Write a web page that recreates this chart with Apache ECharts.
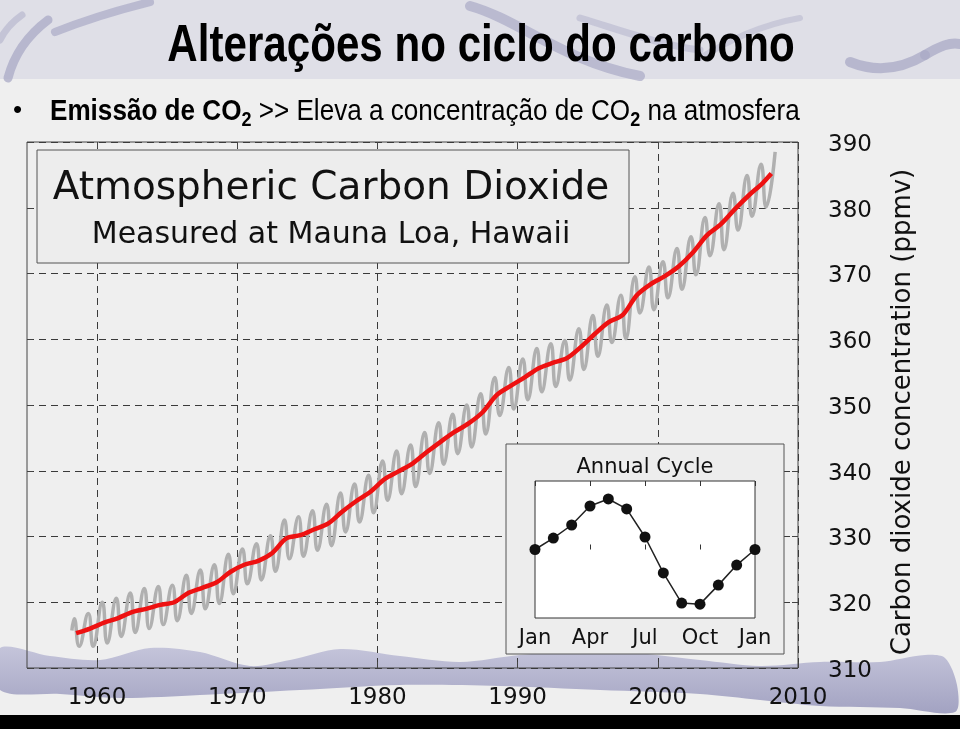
<!DOCTYPE html>
<html><head><meta charset="utf-8">
<script src="https://cdn.jsdelivr.net/npm/echarts@6/dist/echarts.min.js"></script>
<style>html,body{margin:0;padding:0;background:#efefef}#c{width:960px;height:729px}</style>
</head><body><div id="c"></div><script>
// ---- texts ----
const slideTitle = 'Alterações no ciclo do carbono';
const chartTitle = 'Atmospheric Carbon Dioxide';
const chartSubtitle = 'Measured at Mauna Loa, Hawaii';
const yAxisName = 'Carbon dioxide concentration (ppmv)';
const insetTitle = 'Annual Cycle';
// ---- main axes ----
const xTickYears = [1960, 1970, 1980, 1990, 2000, 2010];
const xRange = [1955, 2010];
const yRange = [310, 390];
const yStep = 10;
// ---- monthly record, summarised by seasonal extremes ----
const grayFirstMonth = 1958.2;
const grayFirstValue = 315.7;
const peakYears = [1958,1959,1960,1961,1962,1963,1964,1965,1966,1967,1968,1969,1970,1971,1972,1973,1974,1975,1976,1977,1978,1979,1980,1981,1982,1983,1984,1985,1986,1987,1988,1989,1990,1991,1992,1993,1994,1995,1996,1997,1998,1999,2000,2001,2002,2003,2004,2005,2006,2007,2008];
const mayPeaks = [317.5,318.3,320.0,320.6,321.4,322.1,322.4,322.6,324.1,324.9,325.7,327.3,328.1,328.9,330.1,332.5,333.0,333.9,334.9,336.6,338.0,339.3,341.5,343.0,343.9,345.8,347.3,348.6,350.0,351.7,354.2,355.7,357.0,358.6,359.3,359.8,361.6,363.6,365.2,366.7,369.5,371.0,371.8,373.8,375.6,378.5,380.6,382.2,384.9,386.6,388.5];
const autumnTroughs = [313.3,313.3,313.8,314.8,315.4,316.0,316.6,317.2,318.3,319.0,319.8,321.3,322.8,323.4,324.7,326.6,327.0,327.9,328.6,330.7,332.2,333.6,335.5,336.5,337.6,339.6,341.0,342.6,343.6,345.6,348.4,349.4,350.8,352.0,352.8,353.8,355.4,357.4,359.5,360.1,364.0,364.5,366.3,367.6,369.8,372.7,373.6,376.6,378.7,380.1];
const peakMonthFrac = 0.37;
const troughMonthFrac = 0.72;
// ---- smoothed trend (annual) ----
const trendYears = [1958,1959,1960,1961,1962,1963,1964,1965,1966,1967,1968,1969,1970,1971,1972,1973,1974,1975,1976,1977,1978,1979,1980,1981,1982,1983,1984,1985,1986,1987,1988,1989,1990,1991,1992,1993,1994,1995,1996,1997,1998,1999,2000,2001,2002,2003,2004,2005,2006,2007,2008];
const trendValues = [315.3,316.0,316.9,317.6,318.5,319.0,319.6,320.0,321.4,322.2,323.0,324.6,325.7,326.3,327.5,329.7,330.2,331.1,332.0,333.8,335.4,336.8,338.7,339.9,341.1,342.8,344.4,345.9,347.2,348.9,351.5,352.9,354.2,355.6,356.4,357.1,358.8,360.8,362.6,363.7,366.7,368.4,369.6,371.1,373.2,375.8,377.5,379.8,381.9,383.8,385.2];
const trendLastFrac = 0.1;
// ---- annual cycle inset ----
const cycleMonthIndex = [0,1,2,3,4,5,6,7,8,9,10,11,12];
const cycleValues = [0.0,0.67,1.43,2.54,2.95,2.37,0.73,-1.37,-3.13,-3.19,-2.08,-0.91,0.0];
const cycleTickValues = [0,3,6,9,12];
const cycleTickLabels = ['Jan','Apr','Jul','Oct','Jan'];

// ---- build series data ----
const grayData = [[grayFirstMonth, grayFirstValue]];
peakYears.forEach((y, i) => {
  grayData.push([y + peakMonthFrac, mayPeaks[i]]);
  if (i < autumnTroughs.length) grayData.push([y + troughMonthFrac, autumnTroughs[i]]);
});
const trendData = trendYears.map((y, i) => [y + (i === trendYears.length - 1 ? trendLastFrac : 0.5), trendValues[i]]);
const cycleData = cycleMonthIndex.map((m, i) => [m, cycleValues[i]]);

// ---- layout ----
const P = {left: 27, top: 142, right: 798, bottom: 668};
const I = {left: 535, top: 481, right: 755, bottom: 618};
const dj = 'DejaVu Sans';
const dash = {color: '#3a3a3a', width: 1, type: [7, 5]};

function swoosh(x1, y1, c1x, c1y, c2x, c2y, x2, y2, w, col, op) {
  return {type: 'bezierCurve', z: -9, silent: true,
    shape: {x1: x1, y1: y1, cpx1: c1x, cpy1: c1y, cpx2: c2x, cpy2: c2y, x2: x2, y2: y2},
    style: {fill: null, stroke: col, lineWidth: w, lineCap: 'round', opacity: op}};
}

const chart = echarts.init(document.getElementById('c'), null, {renderer: 'canvas'});
chart.setOption({
  animation: false,
  backgroundColor: '#efefef',
  grid: [
    {left: P.left, top: P.top, width: P.right - P.left, height: P.bottom - P.top, show: true, borderColor: '#444', borderWidth: 1, backgroundColor: 'transparent', containLabel: false},
    {left: I.left, top: I.top, width: I.right - I.left, height: I.bottom - I.top, show: false, containLabel: false}
  ],
  xAxis: [
    {gridIndex: 0, type: 'value', min: xRange[0], max: xRange[1], position: 'bottom',
     axisLine: {show: false},
     axisTick: {show: true, inside: true, length: 6, customValues: xTickYears, lineStyle: {color: '#444'}},
     axisLabel: {customValues: xTickYears, fontFamily: dj, fontSize: 23, color: '#111', margin: 19, formatter: v => String(v)},
     splitLine: {show: true, lineStyle: dash}},
    {gridIndex: 0, type: 'value', min: xRange[0], max: xRange[1], position: 'top',
     axisLine: {show: false},
     axisTick: {show: true, inside: true, length: 6, customValues: xTickYears, lineStyle: {color: '#444'}},
     axisLabel: {show: false}, splitLine: {show: false}},
    {gridIndex: 1, type: 'value', min: 0, max: 12, interval: 3, position: 'bottom', z: 7,
     axisLine: {show: false},
     axisTick: {show: true, inside: true, length: 5, lineStyle: {color: '#333'}},
     axisLabel: {fontFamily: dj, fontSize: 21, color: '#111', margin: 10,
       formatter: v => cycleTickLabels[cycleTickValues.indexOf(v)] || ''},
     splitLine: {show: false}},
    {gridIndex: 1, type: 'value', min: 0, max: 12, interval: 3, position: 'top', z: 7,
     axisLine: {show: false},
     axisTick: {show: true, inside: true, length: 5, lineStyle: {color: '#333'}},
     axisLabel: {show: false}, splitLine: {show: false}}
  ],
  yAxis: [
    {gridIndex: 0, type: 'value', min: yRange[0], max: yRange[1], interval: yStep, position: 'right',
     axisLine: {show: false},
     axisTick: {show: true, inside: true, length: 6, lineStyle: {color: '#444'}},
     axisLabel: {margin: 30, formatter: v => '{a|' + v + '}',
       rich: {a: {fontFamily: dj, fontSize: 23, color: '#111', padding: [6, 0, 0, 0]}}},
     splitLine: {show: true, lineStyle: dash}},
    {gridIndex: 0, type: 'value', min: yRange[0], max: yRange[1], interval: yStep, position: 'left',
     axisLine: {show: false},
     axisTick: {show: true, inside: true, length: 6, lineStyle: {color: '#444'}},
     axisLabel: {show: false}, splitLine: {show: false}},
    {gridIndex: 1, type: 'value', min: -4, max: 4, show: false}
  ],
  series: [
    {type: 'line', xAxisIndex: 0, yAxisIndex: 0, data: grayData, showSymbol: false, smooth: 0.5,
     lineStyle: {color: '#b0b0b0', width: 3.5}, z: 2, silent: true},
    {type: 'line', xAxisIndex: 0, yAxisIndex: 0, data: trendData, showSymbol: false, smooth: 0.3,
     lineStyle: {color: '#ee1111', width: 4.5}, z: 3, silent: true},
    {type: 'line', xAxisIndex: 2, yAxisIndex: 2, data: cycleData, symbol: 'circle', symbolSize: 11,
     itemStyle: {color: '#111'}, lineStyle: {color: '#222', width: 1.5}, z: 9, silent: true}
  ],
  graphic: [
    // slide background bands
    {type: 'rect', z: -10, silent: true, shape: {x: 0, y: 0, width: 960, height: 79}, style: {fill: '#dfdfe7'}},
    swoosh(8, 78, 14, 55, 28, 35, 48, 20, 9, '#a9a9c6', 0.75),
    swoosh(55, 32, 80, 22, 110, 12, 150, 2, 8, '#a9a9c6', 0.7),
    swoosh(0, 40, 5, 30, 12, 22, 22, 15, 7, '#b3b3cc', 0.6),
    swoosh(470, 6, 520, 20, 560, 60, 640, 76, 10, '#a9a9c6', 0.7),
    swoosh(580, 18, 620, 30, 660, 45, 700, 50, 7, '#b3b3cc', 0.55),
    swoosh(700, 58, 730, 40, 760, 25, 800, 18, 6, '#b3b3cc', 0.5),
    swoosh(850, 62, 875, 72, 900, 70, 925, 55, 10, '#a9a9c6', 0.75),
    swoosh(925, 55, 940, 46, 950, 42, 960, 44, 10, '#a9a9c6', 0.75),
    {type: 'polygon', z: -9, silent: true,
     shape: {smooth: 0.3, points: [[0,648],[50,656],[100,660],[150,648],[200,652],[250,666],[290,660],[340,649],[400,656],[460,662],[520,655],[600,650],[700,660],[760,666],[820,662],[880,662],[925,655],[945,658],[957,685],[955,712],[900,708],[820,706],[760,700],[700,694],[600,690],[500,686],[400,685],[300,690],[200,695],[120,698],[60,694],[0,690]]},
     style: {fill: new echarts.graphic.LinearGradient(0, 0, 0, 1, [{offset: 0, color: '#c0c0d8'}, {offset: 1, color: '#9a9abd'}]), opacity: 0.9}},
    {type: 'rect', z: 20, silent: true, shape: {x: 0, y: 715, width: 960, height: 14}, style: {fill: '#000'}},
    // slide title and bullet
    {type: 'text', z: 20, x: 481, y: 47, scaleX: 0.81,
     style: {text: slideTitle, fontFamily: 'Liberation Sans', fontWeight: 'bold', fontSize: 52, fill: '#000', textAlign: 'center', textVerticalAlign: 'middle'}},
    {type: 'text', z: 20, x: 13, y: 111,
     style: {text: '•', fontFamily: 'Liberation Sans', fontSize: 26, fill: '#000', textAlign: 'left', textVerticalAlign: 'middle'}},
    {type: 'text', z: 20, x: 50, y: 112, scaleX: 0.9,
     style: {text: '{b|Emissão de CO}{bs|2}{n| >> Eleva a concentração de CO}{bs|2}{n| na atmosfera}',
       textAlign: 'left', textVerticalAlign: 'middle',
       rich: {
         b: {fontFamily: 'Liberation Sans', fontWeight: 'bold', fontSize: 29, lineHeight: 36, fill: '#000', verticalAlign: 'middle'},
         n: {fontFamily: 'Liberation Sans', fontSize: 29, lineHeight: 36, fill: '#000', verticalAlign: 'middle'},
         bs: {fontFamily: 'Liberation Sans', fontWeight: 'bold', fontSize: 20, lineHeight: 20, fill: '#000', verticalAlign: 'bottom'}
       }}},
    // chart title box
    {type: 'rect', z: 5, shape: {x: 37, y: 150, width: 592, height: 113}, style: {fill: '#ededed', stroke: '#555', lineWidth: 1}},
    {type: 'text', z: 6, x: 331, y: 189, style: {text: chartTitle, fontFamily: dj, fontSize: 39, fill: '#111', textAlign: 'center', textVerticalAlign: 'middle'}},
    {type: 'text', z: 6, x: 331, y: 235, style: {text: chartSubtitle, fontFamily: dj, fontSize: 30, fill: '#111', textAlign: 'center', textVerticalAlign: 'middle'}},
    // inset box
    {type: 'rect', z: 5, shape: {x: 506, y: 444, width: 278, height: 210}, style: {fill: '#ededed', stroke: '#555', lineWidth: 1}},
    {type: 'rect', z: 6, shape: {x: I.left, y: I.top, width: I.right - I.left, height: I.bottom - I.top}, style: {fill: '#fff', stroke: '#333', lineWidth: 1}},
    {type: 'text', z: 6, x: 645, y: 468, style: {text: insetTitle, fontFamily: dj, fontSize: 21, fill: '#111', textAlign: 'center', textVerticalAlign: 'middle'}},
    // y axis name
    {type: 'text', z: 6, x: 903, y: 412, rotation: Math.PI / 2,
     style: {text: yAxisName, fontFamily: dj, fontSize: 26, fill: '#111', textAlign: 'center', textVerticalAlign: 'middle'}}
  ]
});
</script></body></html>
